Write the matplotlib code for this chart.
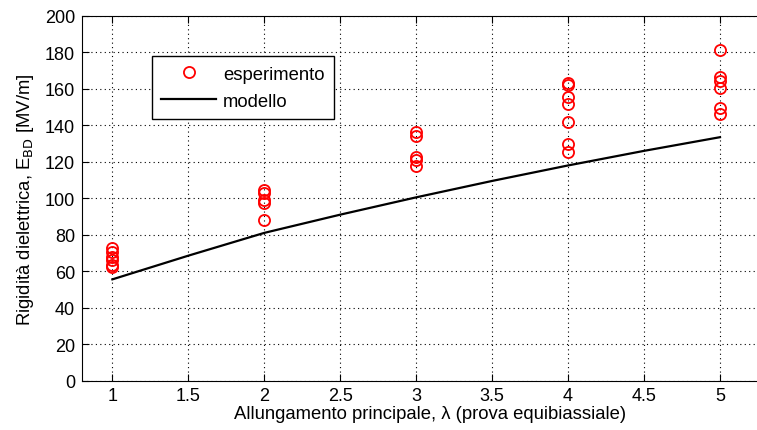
import matplotlib.pyplot as plt

plt.rcParams['font.family'] = ['Liberation Sans', 'DejaVu Sans']

# misure sperimentali (lambda, rigidita' dielettrica MV/m)
exp_x1 = [1, 1, 1, 1, 1, 1]
exp_y1 = [72.5, 70.5, 68, 66, 63.5, 62.5]
exp_x2 = [2, 2, 2, 2, 2]
exp_y2 = [104.5, 103, 99, 97.5, 88]
exp_x3 = [3, 3, 3, 3, 3]
exp_y3 = [136.5, 134, 122.5, 121, 117.5]
exp_x4 = [4, 4, 4, 4, 4, 4, 4]
exp_y4 = [163.5, 162, 155.5, 151.5, 142, 130, 125.5]
exp_x5 = [5, 5, 5, 5, 5, 5]
exp_y5 = [181.5, 166.5, 164.5, 160.5, 149.5, 146]

# modello
mod_x = [1, 1.5, 2, 2.5, 3, 3.5, 4, 4.5, 5]
mod_y = [55.5, 68.5, 81, 91, 100.5, 109.5, 118, 126, 133.5]

xticks = [1, 1.5, 2, 2.5, 3, 3.5, 4, 4.5, 5]
xticklabels = ['1', '1.5', '2', '2.5', '3', '3.5', '4', '4.5', '5']
yticks = list(range(0, 201, 20))

exp_x = exp_x1 + exp_x2 + exp_x3 + exp_x4 + exp_x5
exp_y = exp_y1 + exp_y2 + exp_y3 + exp_y4 + exp_y5

fig = plt.figure(figsize=(7.57, 4.31), dpi=100)
ax = fig.add_axes([0.1083, 0.1148, 0.903, 0.8458])

ax.plot(exp_x, exp_y, linestyle='none', marker='o', ms=8, mfc='none',
        mec='red', mew=1.3, label='esperimento', zorder=3)
ax.plot(mod_x, mod_y, color='black', lw=1.6, label='modello', zorder=2)

ax.set_xlim(0.8, 5.3)
ax.set_ylim(0, 200)
ax.set_xticks(xticks)
ax.set_xticklabels(xticklabels)
ax.set_yticks(yticks)
ax.grid(True, color='black', linestyle=(0, (1, 3)), linewidth=0.8)
ax.set_axisbelow(True)
ax.tick_params(direction='in', length=5, width=0.8, labelsize=13,
               top=True, right=False, pad=5)
for s in ax.spines.values():
    s.set_linewidth(0.8)
ax.spines['right'].set_visible(False)

ax.set_xlabel('Allungamento principale, λ (prova equibiassiale)', fontsize=13.3)
ax.xaxis.set_label_coords((430 - 82) / (0.903 * 757), -(414 - 381.5) / (0.8458 * 431))
ax.xaxis.label.set_verticalalignment('center')
ax.set_ylabel('Rigidità dielettrica, E$_{\\rm BD}$ [MV/m]', fontsize=13.3,
              labelpad=6)

leg = ax.legend(loc='upper left', bbox_to_anchor=(151.7 / 757, 1 - 57.3 / 431),
                bbox_transform=fig.transFigure, borderaxespad=0, fontsize=13.3,
                frameon=True, fancybox=False, numpoints=1, handlelength=3.0,
                handletextpad=0.35, labelspacing=0.55, borderpad=0.5)
leg.get_frame().set_edgecolor('black')
leg.get_frame().set_linewidth(1.0)
leg.get_frame().set_alpha(1)

fig.savefig('out.png', dpi=100)
